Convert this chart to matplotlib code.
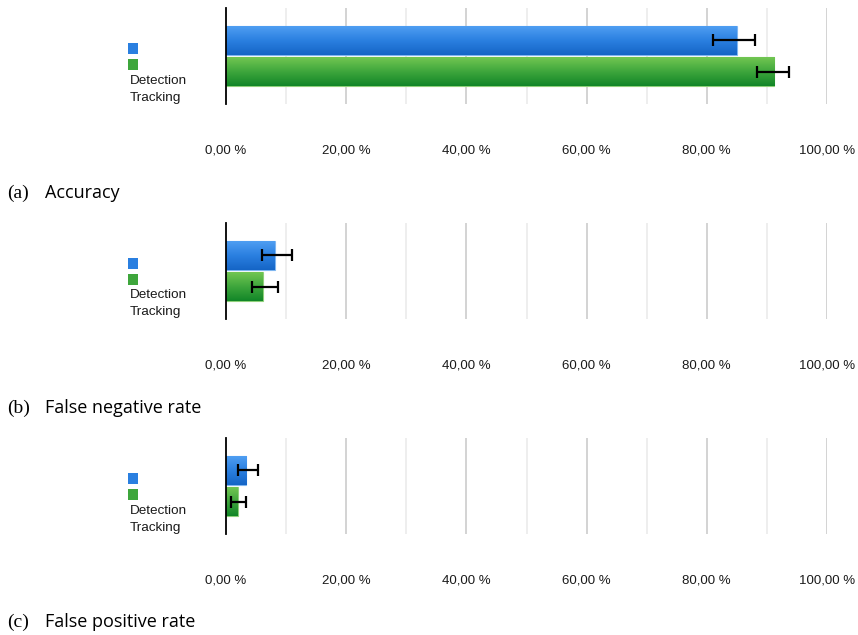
import numpy as np
import matplotlib
matplotlib.use("Agg")
import matplotlib.pyplot as plt
from matplotlib.patches import Rectangle
from matplotlib.colors import LinearSegmentedColormap

# data (percent)
series = ["Detection", "Tracking"]
panels = ["Accuracy", "False negative rate", "False positive rate"]
letters = ["(a)", "(b)", "(c)"]
detection = [85.0, 8.15, 3.4]
detection_lo = [81.0, 6.0, 1.95]
detection_hi = [88.0, 11.0, 5.3]
tracking = [91.2, 6.1, 1.95]
tracking_lo = [88.3, 4.3, 0.8]
tracking_hi = [93.6, 8.65, 3.3]
ticks = [0, 20, 40, 60, 80, 100]
tick_labels = ["0,00 %", "20,00 %", "40,00 %", "60,00 %", "80,00 %", "100,00 %"]

blue_map = LinearSegmentedColormap.from_list("b", ["#4f9ef2", "#2a7fe0", "#1565c6"])
green_map = LinearSegmentedColormap.from_list("g", ["#72c652", "#3ea63c", "#128628"])
tick_font = "Liberation Sans"
cap_font = "Open Sans"

W, H = 858, 635
fig = plt.figure(figsize=(W / 100, H / 100), dpi=100)

ax_tops = [8, 223, 438]
cap_y = [192, 407, 621]


def gradient_bar(ax, bar, cmap):
    x0, y0 = bar.get_x(), bar.get_y()
    w, h = bar.get_width(), bar.get_height()
    grad = np.linspace(0, 1, 64).reshape(-1, 1)
    im = ax.imshow(grad, cmap=cmap, aspect="auto", extent=(x0, x0 + w, y0 + h, y0),
                   origin="upper", zorder=2, interpolation="bilinear")
    im.set_clip_path(bar)
    bar.set_facecolor("none")


for i in range(3):
    top = ax_tops[i]
    ax = fig.add_axes([226 / W, 1 - (top + 96) / H, 601 / W, 96 / H])
    vals = [detection[i], tracking[i]]
    lo = [detection_lo[i], tracking_lo[i]]
    hi = [detection_hi[i], tracking_hi[i]]
    ypos = np.arange(len(series))
    bars = ax.barh(ypos, vals, height=0.92, zorder=2, linewidth=0.8)
    bars[0].set_edgecolor("#7fb6f0")
    bars[1].set_edgecolor("#8fd07a")
    gradient_bar(ax, bars[0], blue_map)
    gradient_bar(ax, bars[1], green_map)
    xerr = [np.array(vals) - np.array(lo), np.array(hi) - np.array(vals)]
    ax.errorbar(vals, ypos, xerr=xerr, fmt="none", ecolor="black", elinewidth=1.6,
                capsize=4.5, capthick=1.6, zorder=4)

    ax.set_xlim(0, 100)
    ax.set_ylim(2.02, -1.03)
    for g in range(10, 101, 10):
        col = "#cccccc" if g % 20 == 0 else "#ebebeb"
        ax.axvline(g, color=col, lw=1.2, zorder=1)
    for s in ["top", "right", "bottom"]:
        ax.spines[s].set_visible(False)
    ax.spines["left"].set_linewidth(1.3)
    ax.spines["left"].set_zorder(5)
    ax.set_yticks([])
    ax.set_xticks(ticks)
    ax.set_xticklabels(tick_labels, fontsize=9.5, family=tick_font, color="#1a1a1a")
    ax.tick_params(axis="x", length=0, pad=29)

    # legend (as exported: swatches above labels)
    fig.patches.append(Rectangle((128 / W, 1 - (top + 46) / H), 10 / W, 11 / H,
                                 transform=fig.transFigure, facecolor="#2a7fe0",
                                 edgecolor="none"))
    fig.patches.append(Rectangle((128 / W, 1 - (top + 62) / H), 10 / W, 11 / H,
                                 transform=fig.transFigure, facecolor="#3ea63c",
                                 edgecolor="none"))
    fig.text(130 / W, 1 - (top + 72.5) / H, series[0], fontsize=9.7, family=tick_font,
             va="center", ha="left", color="#1a1a1a")
    fig.text(130 / W, 1 - (top + 89.5) / H, series[1], fontsize=9.7, family=tick_font,
             va="center", ha="left", color="#1a1a1a")

    # caption
    fig.text(7 / W, 1 - (cap_y[i] + 1) / H, letters[i], fontsize=14, family="Liberation Serif",
             va="center", ha="left")
    fig.text(45 / W, 1 - (cap_y[i] + 1) / H, panels[i], fontsize=13, family=cap_font,
             va="center", ha="left")

fig.savefig("out.png", dpi=100)
